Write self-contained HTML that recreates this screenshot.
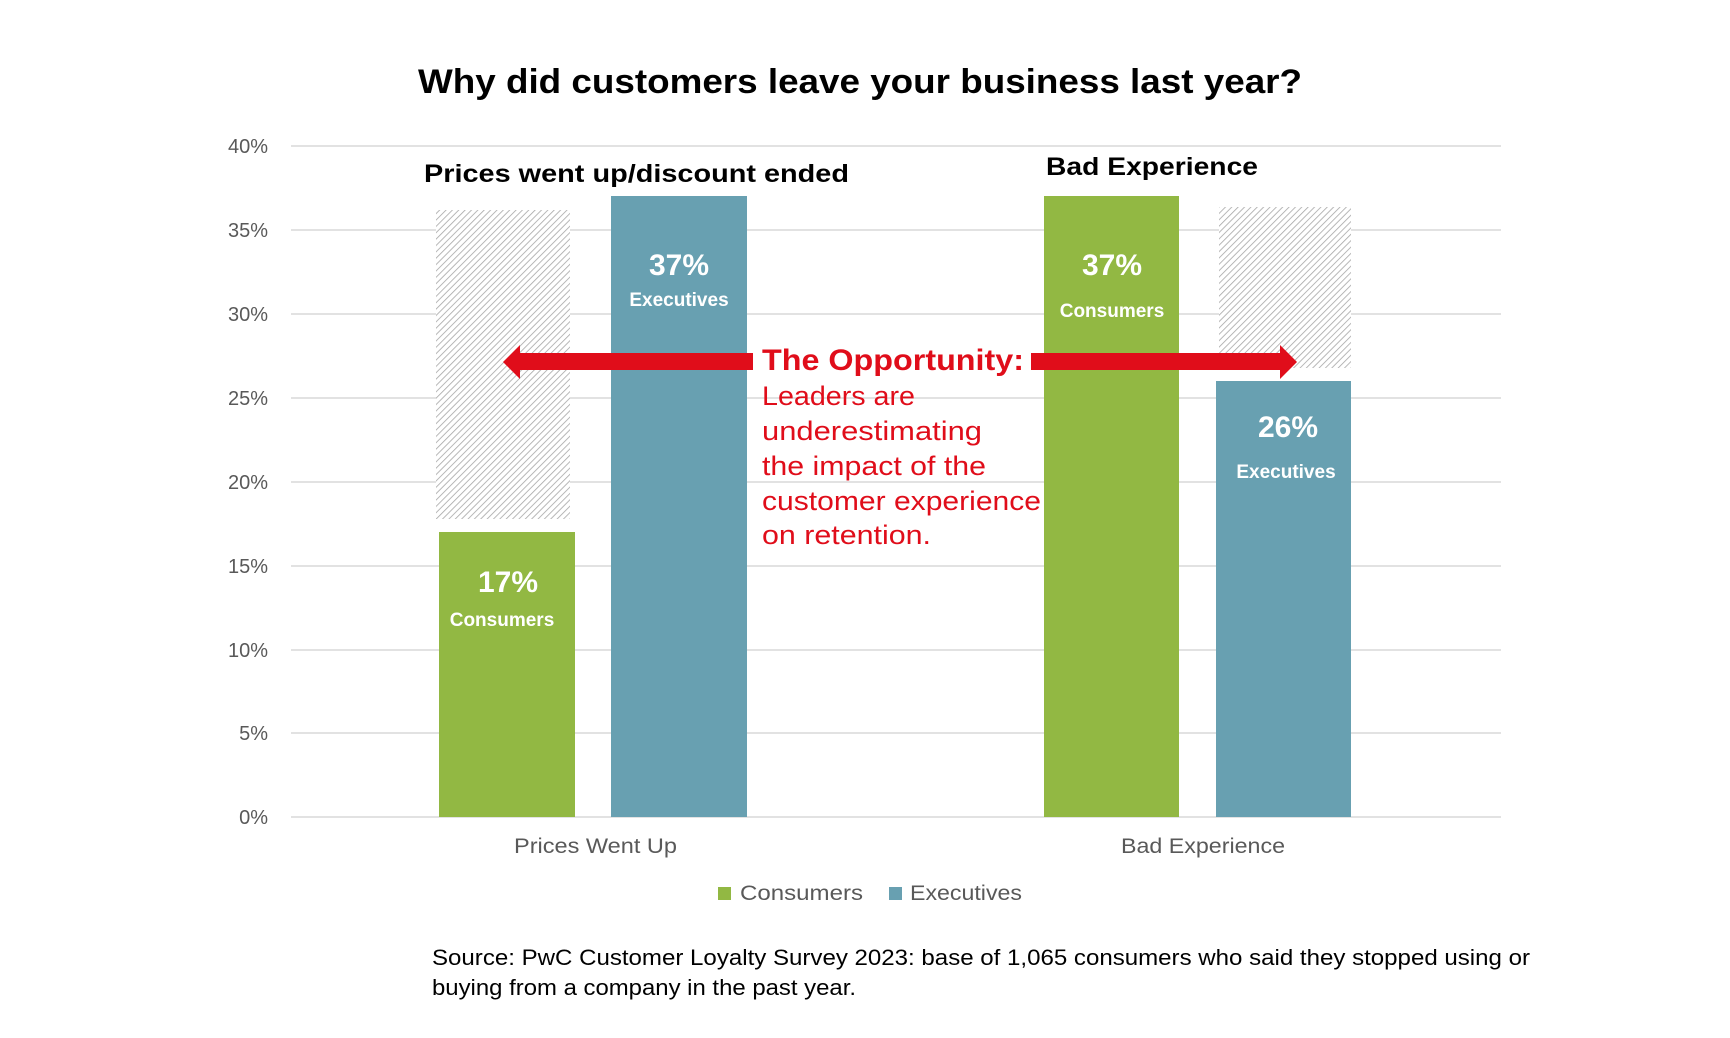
<!DOCTYPE html>
<html><head><meta charset="utf-8"><style>
html,body{margin:0;padding:0;background:#fff;}
svg{display:block;font-family:"Liberation Sans",Arial,sans-serif;}
</style></head><body>
<svg width="1730" height="1038" viewBox="0 0 1730 1038" xmlns="http://www.w3.org/2000/svg">
<defs>
<pattern id="h" patternUnits="userSpaceOnUse" width="4.5" height="4.5" patternTransform="rotate(45)">
<rect width="4.5" height="4.5" fill="#fff"/>
<line x1="0" y1="0" x2="0" y2="4.5" stroke="#a6a6a6" stroke-width="1.6"/>
</pattern>
</defs>
<text x="418" y="93" font-size="34" font-weight="bold" fill="#000" textLength="884" lengthAdjust="spacingAndGlyphs">Why did customers leave your business last year?</text>
<g stroke="#d9d9d9" stroke-width="1.5">
<line x1="291" y1="146" x2="1501" y2="146"/>
<line x1="291" y1="230" x2="1501" y2="230"/>
<line x1="291" y1="314" x2="1501" y2="314"/>
<line x1="291" y1="398" x2="1501" y2="398"/>
<line x1="291" y1="482" x2="1501" y2="482"/>
<line x1="291" y1="566" x2="1501" y2="566"/>
<line x1="291" y1="650" x2="1501" y2="650"/>
<line x1="291" y1="733" x2="1501" y2="733"/>
<line x1="291" y1="817" x2="1501" y2="817"/>
</g>
<g font-size="20" fill="#595959" text-anchor="end">
<text x="268" y="153">40%</text><text x="268" y="237">35%</text><text x="268" y="321">30%</text>
<text x="268" y="405">25%</text><text x="268" y="489">20%</text><text x="268" y="573">15%</text>
<text x="268" y="657">10%</text><text x="268" y="740">5%</text><text x="268" y="824">0%</text>
</g>
<rect x="436" y="210" width="134" height="309" fill="url(#h)"/>
<rect x="1219" y="207" width="132" height="161" fill="url(#h)"/>
<rect x="439" y="532" width="136" height="285" fill="#92b843"/>
<rect x="611" y="196" width="136" height="621" fill="#68a0b1"/>
<rect x="1044" y="196" width="135" height="621" fill="#92b843"/>
<rect x="1216" y="381" width="135" height="436" fill="#68a0b1"/>
<g fill="#fff" font-weight="bold" text-anchor="middle">
<text x="508" y="592" font-size="30">17%</text><text x="502" y="626" font-size="19">Consumers</text>
<text x="679" y="275" font-size="30">37%</text><text x="679" y="306" font-size="19">Executives</text>
<text x="1112" y="275" font-size="30">37%</text><text x="1112" y="317" font-size="19">Consumers</text>
<text x="1288" y="437" font-size="30">26%</text><text x="1286" y="478" font-size="19">Executives</text>
</g>
<text x="424" y="182" font-size="25" font-weight="bold" fill="#000" textLength="425" lengthAdjust="spacingAndGlyphs">Prices went up/discount ended</text>
<text x="1046" y="175" font-size="25" font-weight="bold" fill="#000" textLength="212" lengthAdjust="spacingAndGlyphs">Bad Experience</text>
<g fill="#e00d1a">
<rect x="518" y="353" width="235" height="17"/>
<polygon points="503,362 520,345 520,379"/>
<rect x="1031" y="353" width="251" height="17"/>
<polygon points="1297,362 1280,345 1280,379"/>
</g>
<text x="762" y="370" font-size="30" font-weight="bold" fill="#e00d1a" textLength="262" lengthAdjust="spacingAndGlyphs">The Opportunity:</text>
<g font-size="27" fill="#e00d1a">
<text x="762" y="405" textLength="153" lengthAdjust="spacingAndGlyphs">Leaders are</text>
<text x="762" y="440" textLength="220" lengthAdjust="spacingAndGlyphs">underestimating</text>
<text x="762" y="475" textLength="224" lengthAdjust="spacingAndGlyphs">the impact of the</text>
<text x="762" y="510" textLength="279" lengthAdjust="spacingAndGlyphs">customer experience</text>
<text x="762" y="544" textLength="169" lengthAdjust="spacingAndGlyphs">on retention.</text>
</g>
<g font-size="21" fill="#595959">
<text x="514" y="853" textLength="163" lengthAdjust="spacingAndGlyphs">Prices Went Up</text>
<text x="1121" y="853" textLength="164" lengthAdjust="spacingAndGlyphs">Bad Experience</text>
</g>
<rect x="718" y="887" width="13" height="13" fill="#92b843"/>
<text x="740" y="900" font-size="21" fill="#595959" textLength="123" lengthAdjust="spacingAndGlyphs">Consumers</text>
<rect x="889" y="887" width="13" height="13" fill="#68a0b1"/>
<text x="910" y="900" font-size="21" fill="#595959" textLength="112" lengthAdjust="spacingAndGlyphs">Executives</text>
<g font-size="22" fill="#000">
<text x="432" y="965" textLength="1098" lengthAdjust="spacingAndGlyphs">Source: PwC Customer Loyalty Survey 2023: base of 1,065 consumers who said they stopped using or</text>
<text x="432" y="995" textLength="424" lengthAdjust="spacingAndGlyphs">buying from a company in the past year.</text>
</g>
</svg>
</body></html>
